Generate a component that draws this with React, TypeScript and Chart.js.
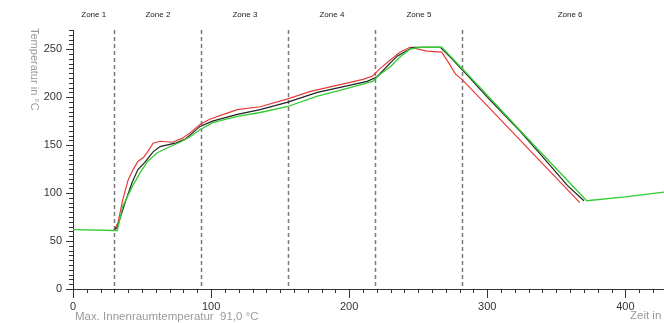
import React, { useEffect, useRef } from "react";
import { Chart, registerables } from "chart.js";

Chart.register(...registerables);

// ---- data ----
const greenTime = [0, 30, 32, 36, 43, 48.5, 54, 61, 68, 77.5, 85, 92, 101, 119, 135.5, 155, 177, 196, 217, 222.5, 230, 237, 244, 252, 267, 283, 300, 324, 343, 372, 400, 428];
const greenTemp = [62, 61, 61, 86, 107, 121, 133, 142, 147, 153, 159, 166, 173.5, 180, 184, 190, 201, 208, 216.5, 224, 232, 242, 250, 252, 252, 228, 202, 165, 136, 92, 96, 101];

const blackTime = [30, 32, 37.7, 42.8, 47, 52, 58, 63, 74, 81, 92, 101, 119, 135.5, 155, 177, 196, 213, 220, 230, 235, 246, 266, 273, 285.5, 300, 324, 340, 358, 370];
const blackTemp = [62, 64, 90, 111, 124.5, 132, 143, 148.5, 152, 156, 169.5, 175, 182, 187, 194.5, 205, 211, 216.5, 221, 236, 243, 252, 252, 242, 223, 200, 164, 138, 108, 92];

const redTime = [30, 32.6, 36, 40, 43.5, 47, 51, 54, 58, 63, 72, 79, 85, 92, 99, 109, 119, 135.5, 155, 172, 193.5, 210, 217, 222.5, 230, 237, 244, 256.5, 267, 272, 277, 282, 302, 367];
const redTemp = [62, 69, 93, 114, 124.5, 133, 137, 143, 152, 154, 153, 157, 163, 171.5, 177, 182, 187, 190, 198, 206, 213, 218.6, 222, 230, 239, 247, 252, 248, 247, 236, 224, 218, 188, 90];

const zoneEdges = [0, 30, 93, 156, 219, 282, 438];
const zoneLabels = ["Zone 1", "Zone 2", "Zone 3", "Zone 4", "Zone 5", "Zone 6"];
const xTicks = [0, 100, 200, 300, 400];
const yTicks = [0, 50, 100, 150, 200, 250];
const yTitle = "Temperatur in °C";
const xTitle = "Zeit in";
const footnote = "Max. Innenraumtemperatur  91,0 °C";

const toPoints = (t: number[], v: number[]) => t.map((x, i) => ({ x, y: v[i] }));

const FONT = "'Liberation Sans', Arial, sans-serif";

const decorPlugin = {
  id: "decor",
  beforeDatasetsDraw(chart: any) {
    const { ctx, chartArea, scales } = chart;
    const xs = scales.x;
    ctx.save();
    ctx.strokeStyle = "#7a7a7a";
    ctx.lineWidth = 1.5;
    ctx.setLineDash([4, 3]);
    for (let i = 1; i < zoneEdges.length - 1; i++) {
      const px = Math.round(xs.getPixelForValue(zoneEdges[i])) + 0.5;
      ctx.beginPath();
      ctx.moveTo(px, chartArea.top);
      ctx.lineTo(px, chartArea.bottom);
      ctx.stroke();
    }
    ctx.restore();
  },
  afterDraw(chart: any) {
    const { ctx, chartArea, scales } = chart;
    const xs = scales.x;
    const ys = scales.y;
    ctx.save();
    // minor ticks
    ctx.strokeStyle = "#333";
    ctx.lineWidth = 1;
    ctx.setLineDash([]);
    for (let v = 0; v <= ys.max; v += 5) {
      if (v % 50 === 0) continue;
      const py = Math.round(ys.getPixelForValue(v)) + 0.5;
      ctx.beginPath();
      ctx.moveTo(chartArea.left - 4, py);
      ctx.lineTo(chartArea.left, py);
      ctx.stroke();
    }
    for (let v = 0; v <= xs.max; v += 10) {
      if (v % 100 === 0) continue;
      const px = Math.round(xs.getPixelForValue(v)) + 0.5;
      ctx.beginPath();
      ctx.moveTo(px, chartArea.bottom);
      ctx.lineTo(px, chartArea.bottom + 4);
      ctx.stroke();
    }
    // zone labels
    ctx.fillStyle = "#222";
    ctx.font = `8px ${FONT}`;
    ctx.textAlign = "center";
    ctx.textBaseline = "middle";
    for (let i = 0; i < zoneLabels.length; i++) {
      const c = (xs.getPixelForValue(zoneEdges[i]) + xs.getPixelForValue(zoneEdges[i + 1])) / 2;
      ctx.fillText(zoneLabels[i], c, 15);
    }
    // y title (rotated, top to bottom)
    ctx.fillStyle = "#9a9a9a";
    ctx.font = `11px ${FONT}`;
    ctx.save();
    ctx.translate(34, chartArea.top - 2);
    ctx.rotate(Math.PI / 2);
    ctx.textAlign = "left";
    ctx.textBaseline = "middle";
    ctx.fillText(yTitle, 0, 0);
    ctx.restore();
    // footnote & x title
    ctx.textAlign = "left";
    ctx.textBaseline = "middle";
    ctx.font = `11.5px ${FONT}`;
    ctx.fillText(footnote, chartArea.left + 2, 317);
    ctx.fillText(xTitle, 630, 316);
    ctx.restore();
  },
};

export default function App() {
  const ref = useRef<HTMLCanvasElement>(null);
  useEffect(() => {
    document.body.style.margin = "0";
    const canvas = ref.current;
    if (!canvas) return;
    const tickFont = { family: FONT, size: 11 };
    const chart = new Chart(canvas, {
      type: "line",
      data: {
        datasets: [
          {
            label: "green",
            data: toPoints(greenTime, greenTemp),
            borderColor: "#33cc33",
            borderWidth: 1.3,
            pointRadius: 0,
            tension: 0,
          },
          {
            label: "black",
            data: toPoints(blackTime, blackTemp),
            borderColor: "#222222",
            borderWidth: 1.2,
            pointRadius: 0,
            tension: 0,
          },
          {
            label: "red",
            data: toPoints(redTime, redTemp),
            borderColor: "#e8393a",
            borderWidth: 1.2,
            pointRadius: 0,
            tension: 0,
          },
        ],
      },
      options: {
        animation: false,
        responsive: false,
        events: [],
        layout: { padding: { top: 30, right: 0, left: 0, bottom: 0 } },
        plugins: { legend: { display: false }, tooltip: { enabled: false } },
        scales: {
          x: {
            type: "linear",
            min: 0,
            max: 428,
            afterBuildTicks: (s: any) => {
              s.ticks = xTicks.map((v) => ({ value: v }));
            },
            afterFit: (s: any) => {
              s.height = 34;
            },
            ticks: { font: tickFont, color: "#333", padding: 2, maxRotation: 0, autoSkip: false },
            grid: { drawOnChartArea: false, drawTicks: true, tickLength: 9, color: "#333" },
            border: { display: true, color: "#333" },
          },
          y: {
            type: "linear",
            min: 0,
            max: 270,
            afterBuildTicks: (s: any) => {
              s.ticks = yTicks.map((v) => ({ value: v }));
            },
            afterFit: (s: any) => {
              s.width = 73;
            },
            ticks: { font: tickFont, color: "#333", padding: 4, autoSkip: false },
            grid: { drawOnChartArea: false, drawTicks: true, tickLength: 7, color: "#333" },
            border: { display: true, color: "#333" },
          },
        },
      },
      plugins: [decorPlugin],
    } as any);
    return () => chart.destroy();
  }, []);
  return (
    <div style={{ position: "absolute", left: 0, top: 0, width: 664, height: 323, background: "#fff" }}>
      <canvas ref={ref} width={664} height={323} style={{ display: "block" }} />
    </div>
  );
}
